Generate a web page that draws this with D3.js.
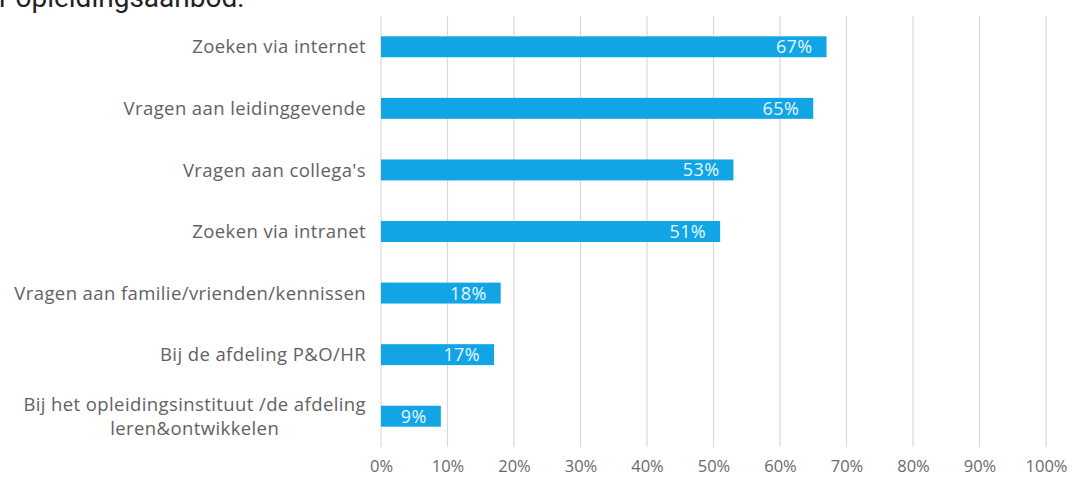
<!DOCTYPE html>
<html>
<head>
<meta charset="utf-8">
<script src="https://cdn.jsdelivr.net/npm/d3@7"></script>
<style>
  body { margin: 0; background: #fff; }
  svg { display: block; }
</style>
</head>
<body>
<div id="chart"></div>
<script>
// Data
const categories = [
  'Zoeken via internet',
  'Vragen aan leidinggevende',
  "Vragen aan collega's",
  'Zoeken via intranet',
  'Vragen aan familie/vrienden/kennissen',
  'Bij de afdeling P&O/HR',
  'Bij het opleidingsinstituut /de afdeling\nleren&ontwikkelen'
];
const values = [67, 65, 53, 51, 18, 17, 9];
const tickValues = [0, 10, 20, 30, 40, 50, 60, 70, 80, 90, 100];

const W = 1074, H = 485;
const x0 = 381, x1 = 1046;   // plot left / right
const yTop = 16, yBot = 447;

const svg = d3.select('#chart')
  .append('svg')
  .attr('width', W)
  .attr('height', H);

// Heading, cut off by the top edge in the picture
svg.append('text')
  .attr('x', -1)
  .attr('y', 7)
  .attr('font-family', 'Roboto, Arial, sans-serif')
  .attr('font-size', 28)
  .attr('fill', '#222')
  .text('r opleidingsaanbod:');

const xScale = d3.scaleLinear().domain([0, 100]).range([x0, x1]);
const yScale = d3.scaleBand()
  .domain(categories)
  .range([yTop, yBot])
  .paddingInner(0.66)
  .paddingOuter(0.33);

// Gridlines
svg.append('g')
  .selectAll('line')
  .data(tickValues)
  .enter().append('line')
  .attr('x1', d => xScale(d))
  .attr('x2', d => xScale(d))
  .attr('y1', yTop)
  .attr('y2', yBot)
  .attr('stroke', '#d9d9d9')
  .attr('stroke-width', 1.2);

// X axis labels
const xAxis = svg.append('g')
  .attr('transform', `translate(0, ${yBot})`)
  .call(d3.axisBottom(xScale).tickValues(tickValues).tickFormat(d => d + '%').tickSize(0).tickPadding(13));
xAxis.select('.domain').remove();
xAxis.selectAll('text')
  .attr('font-family', '"Open Sans", sans-serif')
  .attr('font-size', 16.5)
  .attr('fill', '#6a6a6a');

// Bars
svg.append('g')
  .selectAll('rect')
  .data(values)
  .enter().append('rect')
  .attr('x', xScale(0))
  .attr('y', (d, i) => yScale(categories[i]))
  .attr('width', d => xScale(d) - xScale(0))
  .attr('height', yScale.bandwidth())
  .attr('fill', '#12a5e6');

// Value labels inside bars
svg.append('g')
  .selectAll('text')
  .data(values)
  .enter().append('text')
  .attr('x', d => xScale(d) - 14)
  .attr('y', (d, i) => yScale(categories[i]) + yScale.bandwidth() / 2)
  .attr('dy', '0.36em')
  .attr('text-anchor', 'end')
  .attr('font-family', '"Open Sans", sans-serif')
  .attr('font-size', 18)
  .attr('letter-spacing', 0.4)
  .attr('fill', '#e8f6fd')
  .text(d => d + '%');

// Category labels
const labelRight = 366;
const cat = svg.append('g')
  .selectAll('text')
  .data(categories)
  .enter().append('text')
  .attr('font-family', '"Open Sans", sans-serif')
  .attr('font-size', 18.5)
  .attr('letter-spacing', 0.4)
  .attr('fill', '#626262');

cat.each(function(d, i) {
  const t = d3.select(this);
  const lines = d.split('\n');
  const cy = yScale(d) + yScale.bandwidth() / 2;
  const lh = 24;
  lines.forEach((ln, j) => {
    t.append('tspan').text(ln)
      .attr('y', cy + (j - (lines.length - 1) / 2) * lh)
      .attr('dy', '0.36em');
  });
  // centre multi-line blocks, block right-aligned
  const spans = t.selectAll('tspan').nodes();
  const maxW = d3.max(spans, s => s.getComputedTextLength());
  spans.forEach(s => {
    d3.select(s)
      .attr('text-anchor', 'middle')
      .attr('x', labelRight - maxW / 2);
  });
});
</script>
</body>
</html>
